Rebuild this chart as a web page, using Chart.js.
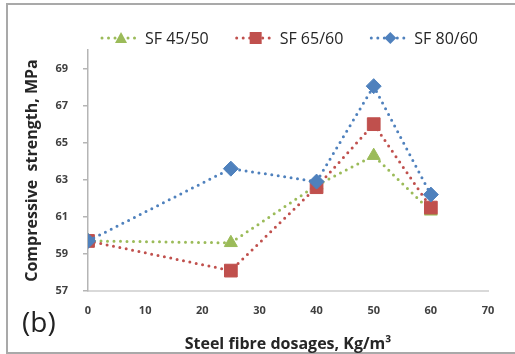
<!DOCTYPE html>
<html>
<head>
<meta charset="utf-8">
<script src="https://cdn.jsdelivr.net/npm/chart.js@4"></script>
<style>
  html, body { margin: 0; padding: 0; background: #fff; }
  .wrap { position: relative; width: 515px; height: 354px; overflow: hidden; }
  .frame { position: absolute; left: 6px; top: 3px; width: 530px; height: 347px; border: 2px solid #a9a9a9; }
  canvas { position: absolute; left: 0; top: 0; }
</style>
</head>
<body>
<div class="wrap">
  <div class="frame"></div>
  <canvas id="chart" width="515" height="354"></canvas>
</div>
<script>
// fibre dosage (Kg/m3) and compressive strength (MPa)
const dosages = [0, 25, 40, 50, 60];
const sf4550 = [59.7, 59.6, 62.7, 64.3, 61.3];
const sf6560 = [59.7, 58.1, 62.6, 66.0, 61.5];
const sf8060 = [59.7, 63.6, 62.9, 68.05, 62.2];
const yTicks = [57, 59, 61, 63, 65, 67, 69];

const GREEN = '#9BBB59';
const RED = '#C0504D';
const BLUE = '#4F81BD';
const FONT = "'Open Sans', 'DejaVu Sans', sans-serif";

function toPoints(values) {
  return dosages.map((d, i) => ({ x: d, y: values[i] }));
}

// marker shape, same look as the points
function drawMarker(ctx, shape, cx, cy, s) {
  ctx.beginPath();
  if (shape === 'triangle') {
    ctx.moveTo(cx, cy - s);
    ctx.lineTo(cx + s, cy + s * 0.85);
    ctx.lineTo(cx - s, cy + s * 0.85);
  } else if (shape === 'rect') {
    ctx.rect(cx - s, cy - s, 2 * s, 2 * s);
  } else {
    ctx.moveTo(cx, cy - s);
    ctx.lineTo(cx + s, cy);
    ctx.lineTo(cx, cy + s);
    ctx.lineTo(cx - s, cy);
  }
  ctx.closePath();
  ctx.fill();
}

// legend drawn by hand: dotted line with the marker in the middle, then the text
const dottedLegend = {
  id: 'dottedLegend',
  afterDraw(chart) {
    const ctx = chart.ctx;
    const iconW = 42;
    const textGap = 3;
    const itemGap = 26;
    ctx.save();
    ctx.font = '16px ' + FONT;
    ctx.textBaseline = 'middle';
    const items = chart.data.datasets.map(ds => ({
      ds: ds,
      w: iconW + textGap + ctx.measureText(ds.label).width
    }));
    const total = items.reduce((s, it) => s + it.w, 0) + itemGap * (items.length - 1);
    const area = chart.chartArea;
    let x = (area.left + area.right) / 2 - total / 2 + 1;
    const y = 38;
    items.forEach(it => {
      const color = it.ds.borderColor;
      ctx.fillStyle = color;
      for (let dx = 2; dx <= iconW - 2; dx += 6.5) {
        ctx.beginPath();
        ctx.arc(x + dx, y, 1.5, 0, Math.PI * 2);
        ctx.fill();
      }
      drawMarker(ctx, it.ds.pointStyle, x + iconW / 2, y, 6);
      ctx.fillStyle = '#262626';
      ctx.fillText(it.ds.label, x + iconW + textGap, y + 1);
      x += it.w + itemGap;
    });
    ctx.restore();
  }
};

const panelLabel = {
  id: 'panelLabel',
  afterDraw(chart) {
    const ctx = chart.ctx;
    ctx.save();
    ctx.font = '28px ' + FONT;
    ctx.fillStyle = '#222';
    ctx.textBaseline = 'middle';
    ctx.fillText('(b)', 22, 324);
    ctx.restore();
  }
};

function series(label, values, color, shape, radius, order) {
  return {
    label: label,
    data: toPoints(values),
    borderColor: color,
    backgroundColor: color,
    borderWidth: 3,
    borderDash: [0, 6.5],
    borderCapStyle: 'round',
    pointStyle: shape,
    pointRadius: radius,
    pointHoverRadius: radius,
    pointBackgroundColor: color,
    pointBorderColor: color,
    pointBorderWidth: 1,
    tension: 0,
    order: order
  };
}

new Chart(document.getElementById('chart'), {
  type: 'line',
  data: {
    datasets: [
      series('SF 45/50', sf4550, GREEN, 'triangle', 7.5, 3),
      series('SF 65/60', sf6560, RED, 'rect', 9, 2),
      series('SF 80/60', sf8060, BLUE, 'rectRot', 7.5, 1)
    ]
  },
  options: {
    responsive: false,
    animation: false,
    layout: { padding: { left: 23, top: 50, right: 27, bottom: 0 } },
    plugins: {
      tooltip: { enabled: false },
      legend: { display: false }
    },
    scales: {
      x: {
        type: 'linear',
        min: 0,
        max: 70,
        afterFit(scale) { scale.height = 63; },
        ticks: {
          stepSize: 10,
          padding: 13,
          color: '#404040',
          font: { family: FONT, size: 11, weight: 'bold' }
        },
        grid: { drawOnChartArea: false, drawTicks: false },
        border: { color: '#d9d9d9', width: 2 },
        title: {
          display: true,
          text: 'Steel fibre dosages, Kg/m³',
          color: '#262626',
          font: { family: FONT, size: 16, weight: 'bold' },
          padding: 0
        }
      },
      y: {
        min: 57,
        max: 70,
        afterFit(scale) { scale.width = 65; },
        afterBuildTicks(scale) {
          scale.ticks = yTicks.map(v => ({ value: v }));
        },
        ticks: {
          padding: 15,
          color: '#404040',
          font: { family: FONT, size: 11, weight: 'bold' }
        },
        grid: { drawOnChartArea: false, drawTicks: true, tickLength: 5, color: '#b5b5b5', lineWidth: 1.5 },
        border: { color: '#b5b5b5', width: 1.5 },
        title: {
          display: true,
          text: 'Compressive  strength, MPa',
          color: '#262626',
          font: { family: FONT, size: 16, weight: 'bold' },
          padding: 0
        }
      }
    }
  },
  plugins: [dottedLegend, panelLabel]
});
</script>
</body>
</html>
